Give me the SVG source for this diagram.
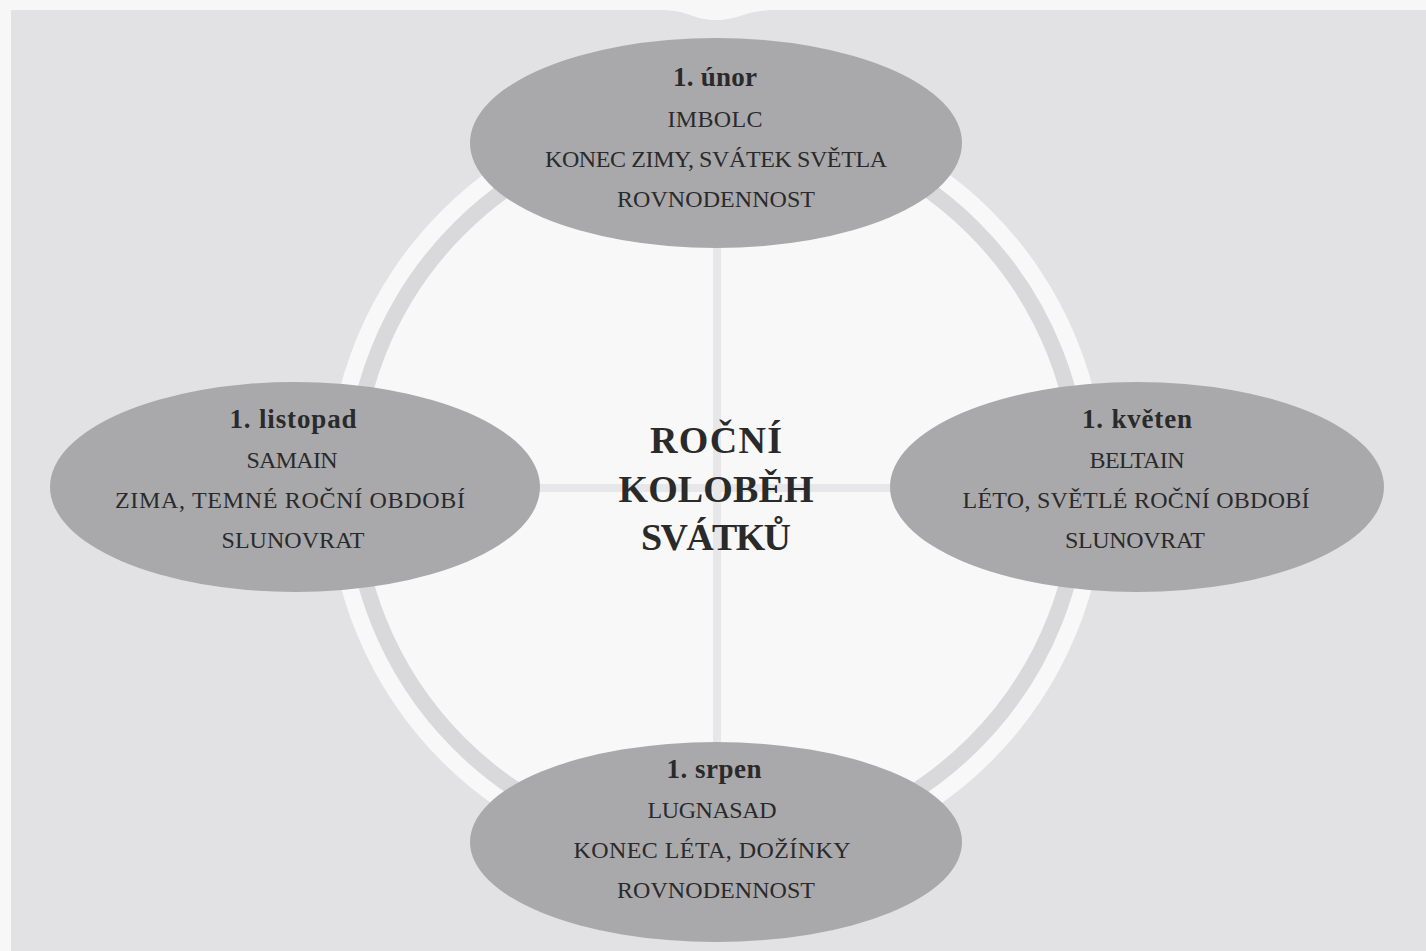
<svg xmlns="http://www.w3.org/2000/svg" width="1426" height="951" viewBox="0 0 1426 951">
<style>
.ell{fill:#a9a9ac;}
.t{font-family:"Liberation Serif","Times New Roman",serif;fill:#2a2a2a;text-anchor:middle;}
.d{font-size:27px;font-weight:bold;}
.n{font-size:24px;}
.c{font-size:24px;}
.title{font-size:38px;font-weight:bold;}
.cross{stroke:#e7e7e9;stroke-width:8;fill:none;}
</style>
<rect x="0" y="0" width="1426" height="951" fill="#f7f7f7"/>
<path d="M11,10 H660 C690,10 692,20 716,20 C740,20 745,10 775,10 H1426 V951 H11 Z" fill="#e2e2e5"/>
<g id="wheel">
<circle cx="716.5" cy="486" r="389" fill="#f8f8f8"/>
<circle cx="716.5" cy="486" r="364" fill="none" stroke="#d9d9db" stroke-width="16"/>
</g>
<g id="connectors">
<line class="cross" x1="717" y1="240" x2="717" y2="745"/>
<line class="cross" x1="535" y1="488" x2="895" y2="488"/>
</g>
<g id="center">
<text class="t title" x="716" y="453" textLength="132">ROČNÍ</text>
<text class="t title" x="716" y="502" textLength="195">KOLOBĚH</text>
<text class="t title" x="716" y="550" textLength="150">SVÁTKŮ</text>
</g>
<g id="imbolc">
<ellipse class="ell" cx="716" cy="143" rx="246" ry="105"/>
<text class="t d" x="715" y="86" textLength="84">1. únor</text>
<text class="t n" x="715" y="127" textLength="95">IMBOLC</text>
<text class="t c" x="716" y="167" textLength="342">KONEC ZIMY, SVÁTEK SVĚTLA</text>
<text class="t c" x="716" y="207" textLength="198">ROVNODENNOST</text>
</g>
<g id="samain">
<ellipse class="ell" cx="295" cy="487" rx="245" ry="105"/>
<text class="t d" x="293" y="428" textLength="127">1. listopad</text>
<text class="t n" x="292" y="468" textLength="91">SAMAIN</text>
<text class="t c" x="290" y="508" textLength="350">ZIMA, TEMNÉ ROČNÍ OBDOBÍ</text>
<text class="t c" x="293" y="548" textLength="143">SLUNOVRAT</text>
</g>
<g id="beltain">
<ellipse class="ell" cx="1137" cy="487" rx="247" ry="105"/>
<text class="t d" x="1137" y="428" textLength="110">1. květen</text>
<text class="t n" x="1137" y="468" textLength="95">BELTAIN</text>
<text class="t c" x="1136" y="508" textLength="347">LÉTO, SVĚTLÉ ROČNÍ OBDOBÍ</text>
<text class="t c" x="1135" y="548" textLength="140">SLUNOVRAT</text>
</g>
<g id="lugnasad">
<ellipse class="ell" cx="716" cy="842" rx="246" ry="100"/>
<text class="t d" x="714" y="778" textLength="95">1. srpen</text>
<text class="t n" x="712" y="818" textLength="129">LUGNASAD</text>
<text class="t c" x="712" y="858" textLength="277">KONEC LÉTA, DOŽÍNKY</text>
<text class="t c" x="716" y="898" textLength="198">ROVNODENNOST</text>
</g>
</svg>
